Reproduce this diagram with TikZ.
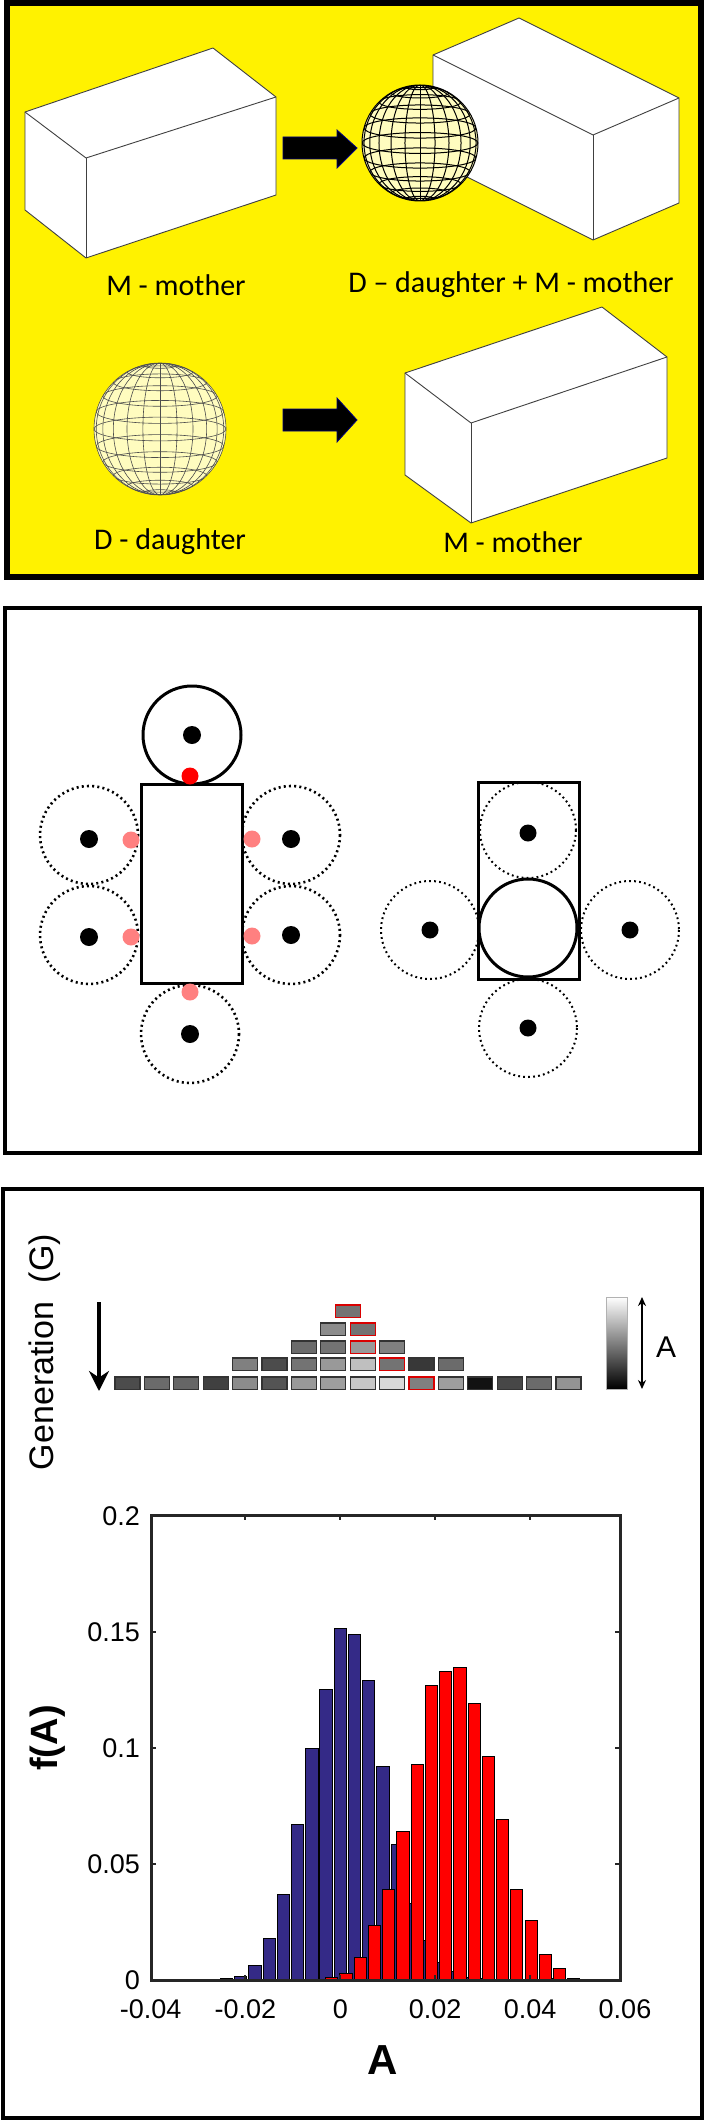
\documentclass[tikz,border=0pt]{standalone}
\usepackage{fontspec}
\usetikzlibrary{arrows.meta}
\setmainfont{Liberation Sans}
\newfontfamily\calib{Carlito}
\begin{document}
\begin{tikzpicture}[x=1pt,y=-1pt,
  frame/.style={draw=black,line width=#1},
  boxline/.style={draw=black!75,line width=0.9pt,line join=round},
  blockarrow/.style={fill=black,draw=blue!50!black,line width=0.8pt},
  dotc/.style={draw=black,line width=2.6pt,dash pattern=on 2pt off 3.2pt},
  dotcthin/.style={draw=black,line width=2pt,dash pattern=on 1.8pt off 3.2pt},
  lbl/.style={font=\calib\fontsize{30}{34}\selectfont,inner sep=0pt},
  tick/.style={font=\fontsize{27}{30}\selectfont,inner sep=0pt},
  gbox/.style={draw=black!80,line width=1.3pt},
  rbox/.style={draw=red!85!black,line width=1.3pt}]
\useasboundingbox (0,0) rectangle (708,2124);
\fill[white] (0,0) rectangle (708,2124);
% ================= PANEL 1 =================
\fill[yellow] (7,3) rectangle (701,577);
\draw[frame=6pt] (7,3) rectangle (701,577);
% box 1
\filldraw[fill=white,boxline] (25,112) -- (213,48) -- (276,97) -- (276,195) -- (86,258) -- (25,210) -- cycle;
\draw[boxline] (25,112) -- (86,158) -- (276,97);
\draw[boxline] (86,158) -- (86,258);
% arrow 1
\filldraw[blockarrow] (283,137) -- (337,137) -- (337,130) -- (357,148) -- (337,168) -- (337,159) -- (283,159) -- cycle;
% box 2
\filldraw[fill=white,boxline] (433,55) -- (519,18) -- (679,98) -- (679,203) -- (593,240) -- (433,160) -- cycle;
\draw[boxline] (433,55) -- (593,135) -- (679,98);
\draw[boxline] (593,135) -- (593,240);
% sphere macro
\newcommand\wiresphere[4]{%
  \begin{scope}
  \fill[yellow!25] (#1,#2) circle (#3);
  \clip (#1,#2) circle (#3);
  \foreach \a in {15,30,45,60,75}{
    \draw[#4] (#1,#2) ellipse ({#3*cos(\a)} and #3);}
  \draw[#4] (#1,#2-#3) -- (#1,#2+#3);
  \foreach \b in {-75,-60,-45,-30,-15,0,15,30,45,60,75}{
    \draw[#4] (#1,{#2+#3*sin(\b)}) ellipse ({#3*cos(\b)} and {0.18*#3*cos(\b)});}
  \end{scope}
  \draw[#4] (#1,#2) circle (#3);}
\wiresphere{420}{143}{58}{black,line width=1pt}
% arrow 2
\filldraw[blockarrow] (283,409) -- (337,409) -- (337,398) -- (357,420) -- (337,442) -- (337,431) -- (283,431) -- cycle;
\wiresphere{160}{429}{66}{black!70,line width=0.6pt}
% box 3
\filldraw[fill=white,boxline] (405,373) -- (602,307) -- (667,357) -- (667,458) -- (471,523) -- (405,475) -- cycle;
\draw[boxline] (405,373) -- (471,423) -- (667,357);
\draw[boxline] (471,423) -- (471,523);
\node[lbl] (l1) at (176,285) {M - mother};
\node[lbl] (l2) at (511,285) {D – daughter + M - mother};
\node[lbl] (l3) at (170,542) {D - daughter};
\node[lbl] (l4) at (513,542) {M - mother};
% ================= PANEL 2 =================
\draw[frame=4pt] (5,608) rectangle (700,1153);
\draw[dotc] (89,835) circle (49);
\draw[dotc] (89,935) circle (49);
\draw[dotc] (291,835) circle (49);
\draw[dotc] (291,935) circle (49);
\draw[dotc] (190,1034) circle (49);
\filldraw[fill=white,draw=black,line width=3pt] (141,784) rectangle (242,983);
\draw[black,line width=3pt] (192,735) circle (49);
\foreach \p in {(192,735),(89,839),(89,937),(291,839),(291,935),(190,1034)}
  \fill[black] \p circle (9);
\fill[red] (190,776) circle (8.5);
\foreach \p in {(131,840),(131,937),(252,839),(252,936),(190,992)}
  \fill[red!50!white] \p circle (8.5);
% right figure
\draw[dotcthin] (528,830) circle (48);
\draw[dotcthin] (430,930) circle (49);
\draw[dotcthin] (630,930) circle (49);
\draw[dotcthin] (528,1028) circle (49);
\draw[black,line width=3pt] (478,782) rectangle (579,979);
\draw[black,line width=3pt] (528,928) circle (49);
\foreach \p in {(528,833),(430,930),(630,930),(528,1028)}
  \fill[black] \p circle (8.5);
% ================= PANEL 3 =================
\draw[frame=4.5pt] (3,1189) rectangle (702,2118);
\node[rotate=90,font=\fontsize{34}{38}\selectfont,inner sep=0pt] (gen) at (45,1352) {Generation\ \ (G)};
\coordinate (gtop) at (99,1302);
\coordinate (gbot) at (99,1391);
\draw[line width=4pt,-{Stealth[length=20pt,width=20pt]}] (gtop) -- (gbot);
% generation boxes: col,row,gray
\foreach \c/\g in {0/30,1/42,2/40,3/25,4/55,5/33,6/60,7/62,8/78,9/85,11/62,12/7,13/28,14/42,15/58}
  \filldraw[fill=black!\the\numexpr100-\g\relax,gbox] ({115+29.4*\c},1377) rectangle +(25,12.5);
\filldraw[fill=black!50,rbox] ({115+29.4*10},1377) rectangle +(25,12.5);
\foreach \c/\g in {4/50,5/30,6/45,7/60,8/75,10/22,11/42}
  \filldraw[fill=black!\the\numexpr100-\g\relax,gbox] ({115+29.4*\c},1358) rectangle +(25,12.5);
\filldraw[fill=black!55,rbox] ({115+29.4*9},1358) rectangle +(25,12.5);
\foreach \c/\g in {6/42,7/45,9/50}
  \filldraw[fill=black!\the\numexpr100-\g\relax,gbox] ({115+29.4*\c},1341) rectangle +(25,12.5);
\filldraw[fill=black!40,rbox] ({115+29.4*8},1341) rectangle +(25,12.5);
\filldraw[fill=black!45,gbox] ({115+29.4*7},1323) rectangle +(25,12.5);
\filldraw[fill=black!55,rbox] ({115+29.4*8},1323) rectangle +(25,12.5);
\filldraw[fill=black!55,rbox] ({115+29.4*7.5},1305) rectangle +(25,12.5);
% colorbar
\shade[top color=white,bottom color=black,draw=gray!60,line width=1pt] (606,1297) rectangle (627,1389);
\coordinate (ca) at (642,1297);
\coordinate (cb) at (642,1389);
\draw[line width=2pt,{Stealth[length=9pt,width=8pt]}-{Stealth[length=9pt,width=8pt]}] (ca) -- (cb);
\node[font=\fontsize{30}{34}\selectfont,inner sep=0pt] (cA) at (666,1347) {A};
% histogram
\begin{scope}
\clip (151,1515) rectangle (620,1980);
\foreach \c/\h in {-0.027/0.0003,-0.024/0.0005,-0.021/0.0016,-0.018/0.0062,-0.015/0.018,-0.012/0.037,-0.009/0.067,-0.006/0.100,-0.003/0.1253,0/0.1514,0.003/0.149,0.006/0.129,0.009/0.092,0.012/0.0586,0.015/0.0328,0.018/0.0169,0.021/0.0075,0.024/0.0035,0.027/0.001,0.030/0.0005,0.045/0.0008}
  \filldraw[fill={rgb,255:red,52;green,42;blue,135},draw=black,line width=0.9pt] ({340.3+\c*4745-6.1},1980) rectangle ({340.3+\c*4745+6.1},{1980-\h*2320});
\foreach \c/\h in {-0.0018/0.0009,0.0012/0.003,0.0042/0.0097,0.0072/0.0236,0.0102/0.039,0.0132/0.064,0.0162/0.0929,0.0192/0.127,0.0222/0.1328,0.0252/0.1346,0.0282/0.119,0.0312/0.0965,0.0342/0.069,0.0372/0.039,0.0402/0.0255,0.0432/0.011,0.0462/0.0048,0.0492/0.0006}
  \filldraw[fill=red,draw=black,line width=0.9pt] ({340.3+\c*4745-6.1},1980) rectangle ({340.3+\c*4745+6.1},{1980-\h*2320});
\end{scope}
\draw[black!85,line width=3pt] (151,1515) rectangle (620,1980);
\foreach \v in {-0.02,0,0.02,0.04}{
  \draw[black!85,line width=2pt] ({340.3+\v*4745},1980) -- ++(0,-5);
  \draw[black!85,line width=2pt] ({340.3+\v*4745},1515) -- ++(0,5);}
\foreach \v in {0.05,0.1,0.15}{
  \draw[black!85,line width=2pt] (151,{1980-\v*2320}) -- ++(5,0);
  \draw[black!85,line width=2pt] (620,{1980-\v*2320}) -- ++(-5,0);}
\foreach \v/\t in {-0.04/-0.04,-0.02/-0.02,0/0,0.02/0.02,0.04/0.04,0.06/0.06}
  \node[tick] at ({340.3+\v*4745},2009) {\t};
\foreach \v/\t in {0/0,0.05/0.05,0.1/0.1,0.15/0.15,0.2/0.2}
  \node[tick,anchor=east] at (140,{1980-\v*2320}) {\t};
\node[rotate=90,font=\bfseries\fontsize{38}{42}\selectfont,inner sep=0pt] (fA) at (48,1738) {f(A)};
\node[font=\bfseries\fontsize{42}{46}\selectfont,inner sep=0pt] (xA) at (383,2060) {A};
\end{tikzpicture}
\end{document}
